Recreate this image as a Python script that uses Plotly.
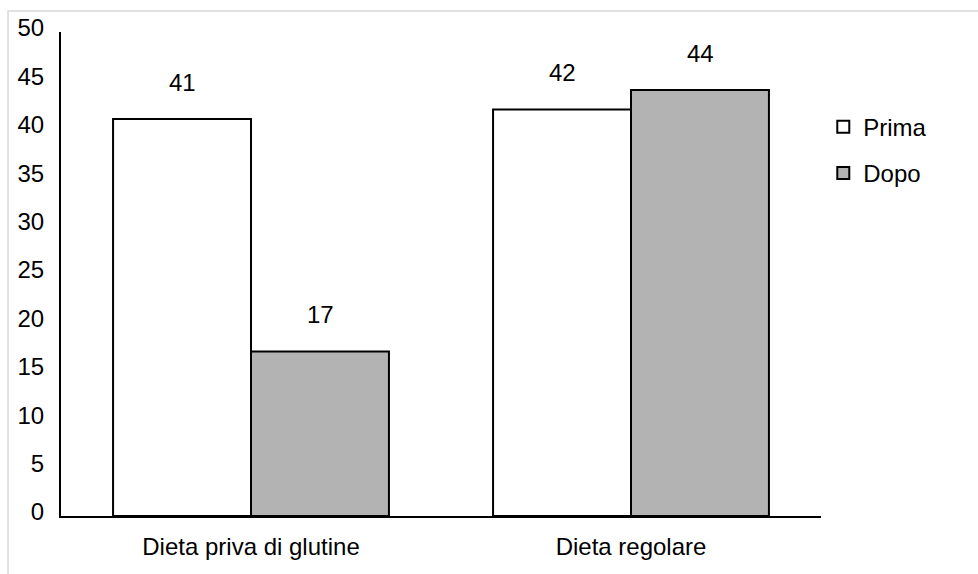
import plotly.graph_objects as go

categories = ["Dieta priva di glutine", "Dieta regolare"]
prima = [41, 42]
dopo = [17, 44]
prima_labels = ["41", "42"]
dopo_labels = ["17", "44"]
y_ticks = [0, 5, 10, 15, 20, 25, 30, 35, 40, 45, 50]

FONT = "Arial, Liberation Sans, sans-serif"
FS = 24

fig = go.Figure()
fig.add_trace(go.Bar(name="Prima", x=categories, y=prima, legendgroup="a",
                     marker=dict(color="white", line=dict(color="black", width=2))))
fig.add_trace(go.Bar(name="Dopo", x=categories, y=dopo, legendgroup="b",
                     marker=dict(color="#b3b3b3", line=dict(color="black", width=2))))

annotations = []
for c, v, t in zip(categories, prima, prima_labels):
    annotations.append(dict(x=c, y=v, text=t, xref="x", yref="y", showarrow=False,
                            yanchor="bottom", xshift=-69, yshift=21,
                            font=dict(size=FS, color="black", family=FONT)))
for c, v, t in zip(categories, dopo, dopo_labels):
    annotations.append(dict(x=c, y=v, text=t, xref="x", yref="y", showarrow=False,
                            yanchor="bottom", xshift=69, yshift=21,
                            font=dict(size=FS, color="black", family=FONT)))

fig.update_layout(
    width=978, height=574,
    margin=dict(l=61, r=157, t=32, b=58),
    paper_bgcolor="white", plot_bgcolor="white",
    font=dict(family=FONT, size=FS, color="black"),
    barmode="group", bargap=0.274, bargroupgap=0,
    showlegend=True,
    legend=dict(x=1.003, xanchor="left", y=0.85, yanchor="top",
                font=dict(size=FS), tracegroupgap=12, traceorder="grouped",
                itemwidth=30),
    annotations=annotations,
    shapes=[dict(type="rect", xref="paper", yref="paper",
                 x0=-0.0697, x1=1.4, y0=-0.3, y1=1.0434,
                 line=dict(color="#d9d9d9", width=1.5), fillcolor="rgba(0,0,0,0)",
                 layer="below")],
)
fig.update_xaxes(showline=True, linecolor="black", linewidth=2, ticks="",
                 showgrid=False, range=[-0.5, 1.5], ticklabelstandoff=8,
                 tickfont=dict(size=FS))
fig.update_yaxes(showline=True, linecolor="black", linewidth=2, ticks="",
                 showgrid=False, zeroline=False, range=[0, 50], tickvals=y_ticks,
                 ticklabelstandoff=10, ticklabelshift=-4, tickfont=dict(size=FS))

fig.write_html("out.html", config={"displayModeBar": False},
               post_script="document.body.style.margin='0';")
